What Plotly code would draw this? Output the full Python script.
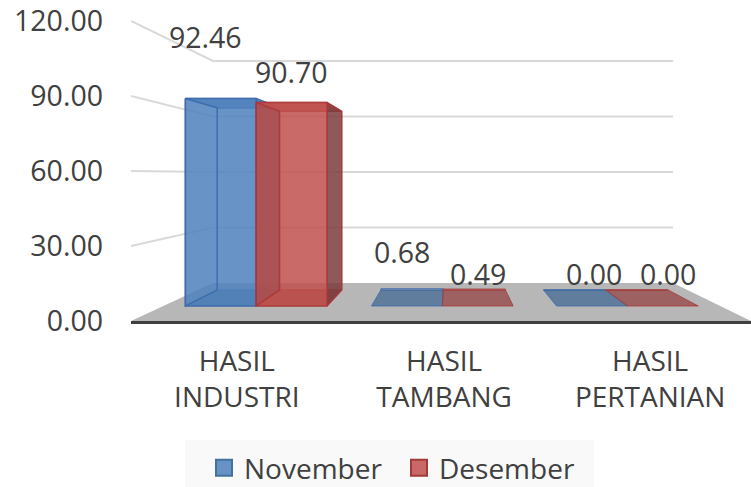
import plotly.graph_objects as go

categories = ["HASIL<br>INDUSTRI", "HASIL<br>TAMBANG", "HASIL<br>PERTANIAN"]
november = [92.46, 0.68, 0.00]
desember = [90.70, 0.49, 0.00]
y_ticks = [0, 30, 60, 90, 120]

# Oblique projection of the 3-D chart box onto the flat axes
FLOOR_RISE = 15.2      # axis units the floor climbs from front to back
SHRINK_Y = 0.26
SHRINK_X = 0.258
DRIFT_X = 0.0065
BAR_FRONT, BAR_BACK = 0.395, 0.816
CAT_POS = [-2 / 3, 0.002, 2 / 3]
LABEL_NUDGE = 0.008
BAR_W = 0.2545
FONT = "Open Sans"
TXT = "#404040"


def project(u, v, d):
    return u * (1 - SHRINK_X * d) + DRIFT_X * d, FLOOR_RISE * d + v * (1 - SHRINK_Y * d)


def poly(u0, u1, v0, v1, face):
    f, b = BAR_FRONT, BAR_BACK
    corners = {
        "front": [(u0, v1, f), (u1, v1, f), (u1, v0, f), (u0, v0, f)],
        "back": [(u0, v1, b), (u1, v1, b), (u1, v0, b), (u0, v0, b)],
        "left": [(u0, v1, f), (u0, v1, b), (u0, v0, b), (u0, v0, f)],
        "right": [(u1, v1, f), (u1, v1, b), (u1, v0, b), (u1, v0, f)],
        "top": [(u0, v1, f), (u1, v1, f), (u1, v1, b), (u0, v1, b)],
        "bottom": [(u0, v0, f), (u1, v0, f), (u1, v0, b), (u0, v0, b)],
    }[face]
    pts = [project(*c) for c in corners]
    pts.append(pts[0])
    return [p[0] for p in pts], [p[1] for p in pts]


fig = go.Figure()


def add_poly(xy, fill, line, width=1.5):
    fig.add_trace(go.Scatter(
        x=xy[0], y=xy[1], mode="lines", fill="toself" if fill else None,
        fillcolor=fill, line=dict(color=line, width=width),
        showlegend=False, hoverinfo="skip"))


# walls
GRID = "#d9d9d9"
for v in y_ticks[1:]:
    p0, p1, p2 = project(-1, v, 0), project(-1, v, 1), project(1, v, 1)
    fig.add_trace(go.Scatter(
        x=[p0[0], p1[0], p2[0]], y=[p0[1], p1[1], p2[1]], mode="lines",
        line=dict(color=GRID, width=2), showlegend=False, hoverinfo="skip"))

# floor
floor = [project(-1, 0, 0), project(1, 0, 0), project(1, 0, 1), project(-1, 0, 1), project(-1, 0, 0)]
fig.add_trace(go.Scatter(
    x=[p[0] for p in floor], y=[p[1] for p in floor], mode="lines", fill="toself",
    fillcolor="#b7b7b7", line=dict(color="#b7b7b7", width=0),
    showlegend=False, hoverinfo="skip"))

styles = [
    dict(vals=november, off=-1, front="rgba(79,129,189,0.86)", top="rgba(79,129,189,0.86)",
         bottom="rgba(60,100,145,0.70)", line="rgba(60,105,170,0.8)", side="rgba(40,70,110,0.0)",
         right="rgba(79,129,189,0.86)"),
    dict(vals=desember, off=0, front="rgba(192,80,77,0.85)", top="rgba(192,80,77,0.85)",
         bottom="rgba(145,60,60,0.70)", line="rgba(170,55,55,0.8)", side="rgba(120,30,20,0.12)",
         right="rgba(125,60,60,0.85)"),
]

for s in styles:
    for pos, val in zip(CAT_POS, s["vals"]):
        u0 = pos + s["off"] * BAR_W
        u1 = u0 + BAR_W
        add_poly(poly(u0, u1, 0, val, "back"), None, s["line"], 1)
        if val >= 1:
            add_poly(poly(u0, u1, 0, val, "top"), s["top"], s["line"])
        add_poly(poly(u0, u1, 0, val, "bottom"), s["bottom"], s["line"], 1)
        if val >= 1:
            add_poly(poly(u0, u1, 0, val, "right"), s["right"], s["line"])
            add_poly(poly(u0, u1, 0, val, "front"), s["front"], s["line"])
            add_poly(poly(u0, u1, 0, val, "left"), s["side"], s["line"])

# data labels, nudged in pixels the way the original chart placed them
nudges = {"nov": [(-15, 62), (-5, 52), (2, 32)], "des": [(0, 31), (0, 31), (5, 32)]}
annotations = []
for s, key in zip(styles, ["nov", "des"]):
    for pos, val, (dx, dy) in zip(CAT_POS, s["vals"], nudges[key]):
        x, y = project(pos + (s["off"] + 0.5) * BAR_W, val, BAR_FRONT)
        annotations.append(dict(
            x=x, y=y, xref="x", yref="y", text=f"{val:.2f}", showarrow=False,
            xshift=dx, yshift=dy, xanchor="center", yanchor="middle",
            font=dict(family=FONT, size=28.5, color=TXT)))

# legend entries
fig.add_trace(go.Scatter(x=[None], y=[None], mode="markers", name="November",
                         marker=dict(symbol="square", size=16, color="rgba(79,129,189,0.86)",
                                     line=dict(color="#41719c", width=2))))
fig.add_trace(go.Scatter(x=[None], y=[None], mode="markers", name="Desember",
                         marker=dict(symbol="square", size=16, color="rgba(192,80,77,0.85)",
                                     line=dict(color="#a33a3a", width=2))))

fig.update_layout(
    width=751, height=487, autosize=False,
    margin=dict(l=131, r=0, t=0, b=166, autoexpand=False),
    paper_bgcolor="white", plot_bgcolor="white",
    font=dict(family=FONT, size=28, color=TXT),
    annotations=annotations,
    shapes=[dict(type="rect", xref="paper", yref="paper", layer="below",
                 x0=(185 - 131) / 620, x1=(594 - 131) / 620,
                 y0=-166 / 321, y1=-119 / 321,
                 fillcolor="#f9f9f9", line=dict(width=0))],
    legend=dict(orientation="h", x=(204 - 131) / 620, xanchor="left", y=-0.38, yanchor="top",
                bgcolor="rgba(0,0,0,0)", itemsizing="trace", entrywidth=150, entrywidthmode="pixels",
                font=dict(family=FONT, size=28, color=TXT)),
    xaxis=dict(range=[-1, 1], tickmode="array", tickvals=[p + LABEL_NUDGE for p in CAT_POS],
               ticktext=categories,
               showgrid=False, zeroline=False, showline=True, linecolor="#404040", linewidth=3,
               ticks="", tickfont=dict(family=FONT, size=28, color=TXT), fixedrange=True,
               ticklabelstandoff=13, automargin=False),
    yaxis=dict(range=[0, 128.4], tickmode="array", tickvals=y_ticks,
               ticktext=[f"{v:.2f}" for v in y_ticks], showgrid=False, zeroline=False,
               showline=False, ticks="", ticklabelstandoff=27, automargin=False,
               tickfont=dict(family=FONT, size=28.5, color=TXT), fixedrange=True),
)

fig.write_html("out.html", config={"displayModeBar": False},
               post_script="document.body.style.margin='0';")
